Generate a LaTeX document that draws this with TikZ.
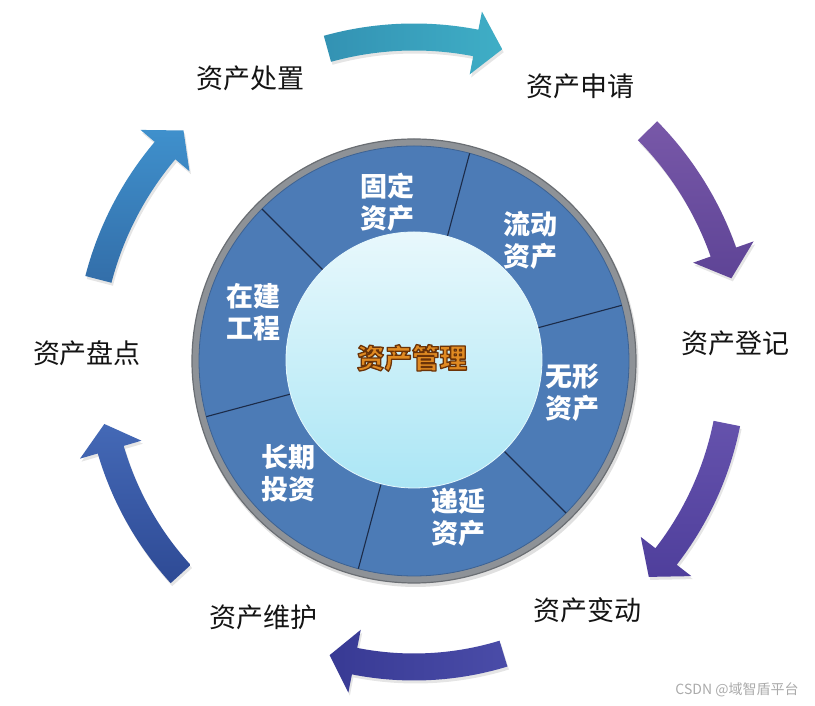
\documentclass[tikz,border=0pt]{standalone}
\usepackage{fontspec}
\newfontfamily\cjk{Noto Sans CJK SC}
\definecolor{ringgray}{HTML}{8E9297}
\definecolor{ringdark}{HTML}{6A6E73}
\definecolor{secblue}{HTML}{4C7BB6}
\definecolor{secline}{HTML}{1C2B48}
\definecolor{coretop}{HTML}{E8F8FC}
\definecolor{corebot}{HTML}{ABE6F5}
\definecolor{coretext}{HTML}{E08A22}
\definecolor{aAl}{HTML}{3392B3}\definecolor{aAr}{HTML}{3FAEC6}
\definecolor{aBt}{HTML}{7858A8}\definecolor{aBb}{HTML}{5E4496}
\definecolor{aCt}{HTML}{6552AC}\definecolor{aCb}{HTML}{4F3F9C}
\definecolor{aDr}{HTML}{4A4CA8}\definecolor{aDl}{HTML}{383A94}
\definecolor{aEt}{HTML}{4469B6}\definecolor{aEb}{HTML}{2E4A95}
\definecolor{aFt}{HTML}{3F90CC}\definecolor{aFb}{HTML}{336EA9}
\definecolor{wmark}{HTML}{ABABAB}
\newcommand{\cyclearrow}[4]{%
  \pgfmathsetmacro{\ah}{#2+4.8}%
  \pgfmathsetmacro{\ro}{#3+13.5}%
  \pgfmathsetmacro{\ri}{#3-13.5}%
  \pgfmathsetmacro{\rhout}{#3+32}%
  \pgfmathsetmacro{\rhin}{#3-32}%
  \begin{scope}[shift={(1.5,-3)}]
  \fill[black,opacity=0.10] ({#1}:{\ro}) arc[start angle=#1, end angle=\ah, radius=\ro pt] -- ({\ah}:{\rhout}) -- ({#2}:{#3}) -- ({\ah}:{\rhin}) -- ({\ah}:{\ri}) arc[start angle=\ah, end angle=#1, radius=\ri pt] -- cycle;
  \end{scope}
  \shade[#4] ({#1}:{\ro}) arc[start angle=#1, end angle=\ah, radius=\ro pt] -- ({\ah}:{\rhout}) -- ({#2}:{#3}) -- ({\ah}:{\rhin}) -- ({\ah}:{\ri}) arc[start angle=\ah, end angle=#1, radius=\ri pt] -- cycle;
}
\newcommand{\strokedtext}[1]{%
  \special{pdf:literal direct 2 Tr 1.3 w 1 j 0.42 0.20 0.03 RG}#1\special{pdf:literal direct 0 Tr}}
\tikzset{
  seclabel/.style={text=white, font=\cjk\bfseries\fontsize{27}{32}\selectfont, align=center, inner sep=0pt},
  outlabel/.style={text=black!92, font=\cjk\fontsize{27}{30}\selectfont, inner sep=0pt},
  divider/.style={secline, line width=1.1pt},
  corelabel/.style={font=\cjk\bfseries\fontsize{27.5}{30}\selectfont, inner sep=0pt, text=coretext},
}
\begin{document}
\begin{tikzpicture}[x=1pt,y=1pt]
\useasboundingbox (0,0) rectangle (815,706);
\fill[white] (0,0) rectangle (815,706);
\begin{scope}[shift={(414,345)}]
  % arrows (clockwise)
  \cyclearrow{105.5}{74.2}{324}{left color=aAl, right color=aAr}
  \cyclearrow{44.6}{14.6}{328}{top color=aBt, bottom color=aBb}
  \cyclearrow{-11.3}{-42.6}{319}{top color=aCt, bottom color=aCb}
  \cyclearrow{-73}{-106}{306}{left color=aDl, right color=aDr}
  \cyclearrow{-137.6}{-168.5}{316}{top color=aEt, bottom color=aEb}
  \cyclearrow{165.5}{135}{326}{top color=aFt, bottom color=aFb}
  % wheel
  \fill[black,opacity=0.12] (1.5,-3) circle[radius=223pt];
  \node[circle, minimum size=444pt, inner sep=0pt, fill=ringgray, draw=ringdark, line width=1.2pt] (ring) at (0,0) {};
  \node[circle, minimum size=430pt, inner sep=0pt, fill=secblue, draw=secblue!80!black, line width=0.8pt] (disc) at (0,0) {};
  \foreach \a in {15,75,135,195,255,315}
    \draw[divider] (\a:128) -- (\a:215);
  \node[circle, minimum size=256pt, inner sep=0pt, top color=coretop, bottom color=corebot, draw=white!70!corebot, line width=0.8pt] (core) at (0,1) {};
\end{scope}
% sector labels
\node[seclabel] (gd) at (387,504) {固定\\资产};
\node[seclabel] (ld) at (530,466) {流动\\资产};
\node[seclabel] (wx) at (572,313) {无形\\资产};
\node[seclabel] (dy) at (458,189) {递延\\资产};
\node[seclabel] (cq) at (288,233) {长期\\投资};
\node[seclabel] (zj) at (253,394) {在建\\工程};
% core label with dark outline
\node[corelabel] (coretxt) at (412,348) {\strokedtext{资产管理}};
% outer labels
\node[outlabel] (cz) at (250,628) {资产处置};
\node[outlabel] (sq) at (580,620) {资产申请};
\node[outlabel] (dj) at (735,363) {资产登记};
\node[outlabel] (bd) at (587,96) {资产变动};
\node[outlabel] (wh) at (263,89) {资产维护};
\node[outlabel] (pd) at (87,353) {资产盘点};
% watermark
\node[text=wmark, font=\cjk\fontsize{14}{16}\selectfont, inner sep=0pt] (wm) at (737,16) {CSDN @域智盾平台};
\end{tikzpicture}
\end{document}
